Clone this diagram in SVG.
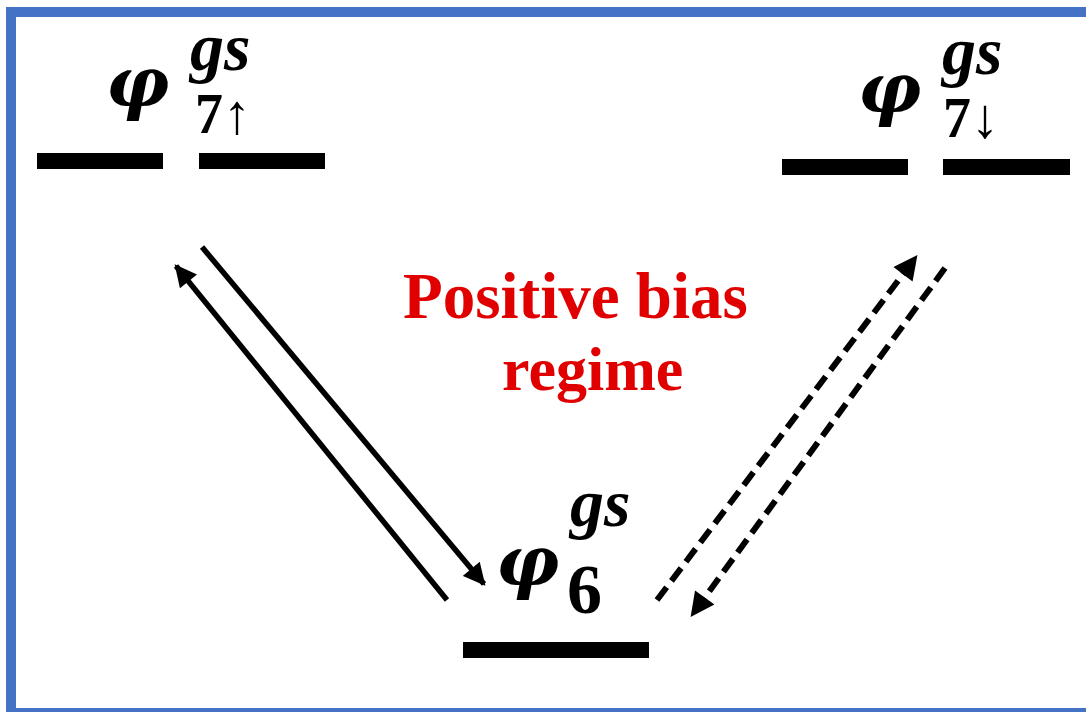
<svg xmlns="http://www.w3.org/2000/svg" width="1086" height="712" viewBox="0 0 1086 712">
<style>
.bar{fill:#000}
.phi{font-family:"DejaVu Serif","Liberation Serif",serif;font-weight:bold;font-style:italic;font-size:70px;fill:#000}
.sup{font-family:"Liberation Serif","DejaVu Serif",serif;font-weight:bold;font-style:italic;font-size:68px;fill:#000}
.sub{font-family:"Liberation Serif","DejaVu Serif",serif;font-weight:bold;font-size:56px;fill:#000}
.six{font-family:"Liberation Serif","DejaVu Serif",serif;font-weight:bold;font-size:70px;fill:#000}
.lbl{font-family:"Liberation Serif",serif;font-weight:bold;fill:#E00000}
.solid{stroke:#000;stroke-width:5.5;fill:none}
.dash{stroke:#000;stroke-width:6;fill:none;stroke-dasharray:16 8}
</style>
<defs>
<marker id="ah" viewBox="0 0 10 10" refX="9" refY="5" markerWidth="4.4" markerHeight="4" orient="auto" markerUnits="strokeWidth">
<path d="M0,0 L10,5 L0,10 Z" fill="#000"/>
</marker>
</defs>
<rect x="0" y="0" width="1086" height="712" fill="#fff"/>
<rect x="11" y="12" width="1100" height="701" fill="none" stroke="#4472C4" stroke-width="10"/>
<g id="node-up">
<rect class="bar" x="37" y="153" width="126" height="16"/>
<rect class="bar" x="199" y="153" width="126" height="16"/>
<text class="phi" x="106" y="107">φ</text>
<text class="sup" x="190" y="70">gs</text>
<text class="sub" x="195" y="133">7↑</text>
</g>
<g id="node-down">
<rect class="bar" x="782" y="159" width="126" height="16"/>
<rect class="bar" x="943" y="159" width="127" height="16"/>
<text class="phi" x="858" y="113">φ</text>
<text class="sup" x="942" y="74">gs</text>
<text class="sub" x="943" y="137">7↓</text>
</g>
<g id="node-6">
<rect class="bar" x="463" y="642" width="186" height="16"/>
<text class="phi" x="496" y="586">φ</text>
<text class="sup" x="570" y="526">gs</text>
<text class="six" x="567" y="613">6</text>
</g>
<g id="label">
<text class="lbl" x="403" y="318" font-size="65">Positive bias</text>
<text class="lbl" x="502" y="390" font-size="62">regime</text>
</g>
<g id="connectors">
<line class="solid" x1="447" y1="600" x2="176" y2="266" marker-end="url(#ah)"/>
<line class="solid" x1="202" y1="247" x2="484" y2="584" marker-end="url(#ah)"/>
<line class="dash" x1="657" y1="600" x2="916" y2="257" marker-end="url(#ah)"/>
<line class="dash" x1="945" y1="268" x2="692" y2="615" marker-end="url(#ah)"/>
</g>
</svg>
